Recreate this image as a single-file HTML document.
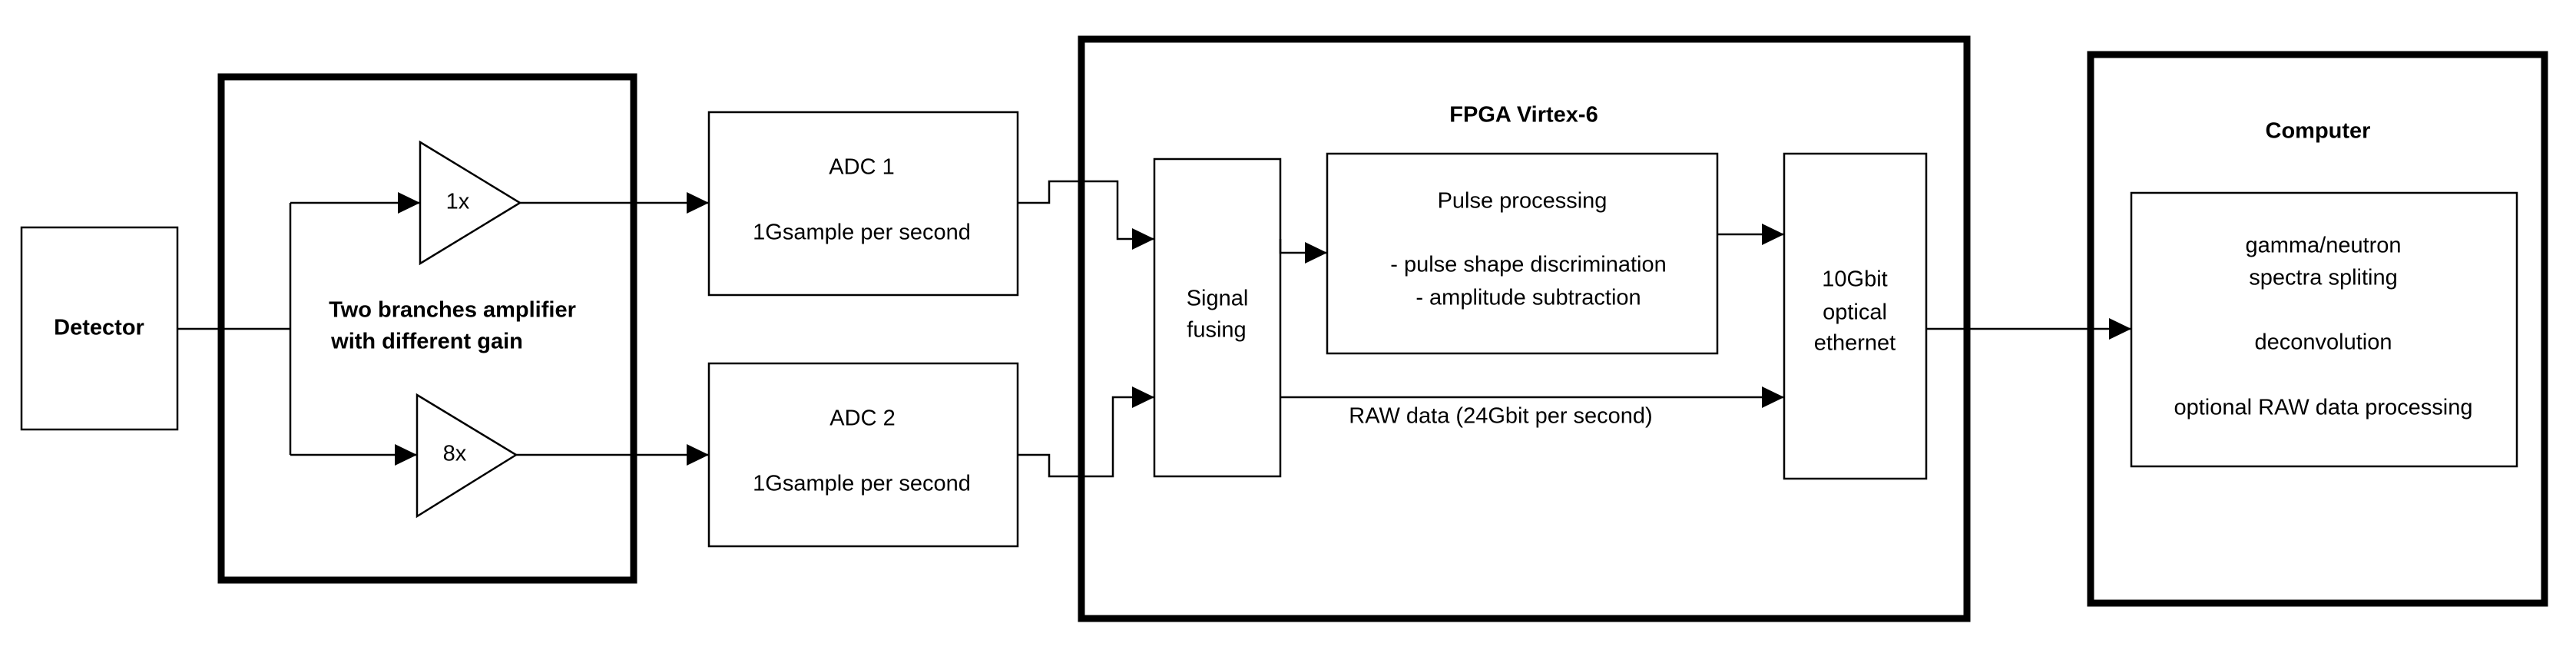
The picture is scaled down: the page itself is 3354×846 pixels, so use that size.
<!DOCTYPE html>
<html><head><meta charset="utf-8"><style>
html,body{margin:0;padding:0;background:#fff;}
svg{display:block;}
text{font-family:"Liberation Sans",sans-serif;font-size:29px;fill:#000;text-anchor:middle;dominant-baseline:middle;}
.b{font-weight:bold;}
</style></head><body>
<svg width="3354" height="846" viewBox="0 0 3354 846" xmlns="http://www.w3.org/2000/svg">
<defs>
<marker id="a" markerUnits="userSpaceOnUse" markerWidth="29" markerHeight="28" refX="29" refY="14" orient="auto">
<path d="M0,0 L29,14 L0,28 Z" fill="#000"/>
</marker>
</defs>
<g fill="none" stroke="#000">
<!-- thick containers -->
<rect x="288" y="100" width="537" height="655" stroke-width="9"/>
<rect x="1408" y="51" width="1153" height="754" stroke-width="9"/>
<rect x="2722" y="71" width="591" height="714" stroke-width="9"/>
<!-- boxes -->
<g stroke-width="2.5">
<rect x="28" y="296" width="203" height="263"/>
<rect x="923" y="146" width="402" height="238"/>
<rect x="923" y="473" width="402" height="238"/>
<rect x="1503" y="207" width="164" height="413"/>
<rect x="1728" y="200" width="508" height="260"/>
<rect x="2323" y="200" width="185" height="423"/>
<rect x="2775" y="251" width="502" height="356"/>
<polygon points="547,185 677,264 547,343"/>
<polygon points="543,514 672,592 543,672"/>
</g>
<!-- connectors -->
<g stroke-width="2.5">
<polyline points="231,428 378,428"/>
<polyline points="378,264 378,592"/>
<polyline points="378,264 547,264" marker-end="url(#a)"/>
<polyline points="378,592 543,592" marker-end="url(#a)"/>
<polyline points="677,264 923,264" marker-end="url(#a)"/>
<polyline points="672,592 923,592" marker-end="url(#a)"/>
<polyline points="1325,264 1366,264 1366,236 1455,236 1455,311 1503,311" marker-end="url(#a)"/>
<polyline points="1325,592 1366,592 1366,620 1449,620 1449,517 1503,517" marker-end="url(#a)"/>
<polyline points="1667,311 1667,329 1728,329" marker-end="url(#a)"/>
<polyline points="2236,305 2323,305" marker-end="url(#a)"/>
<polyline points="1667,517 2323,517" marker-end="url(#a)"/>
<polyline points="2508,428 2775,428" marker-end="url(#a)"/>
</g>
</g>
<text class="b" x="129" y="428">Detector</text>
<text class="b" x="589" y="405">Two branches amplifier</text>
<text class="b" x="556" y="446">with different gain</text>
<text x="596" y="264">1x</text>
<text x="592" y="592">8x</text>
<text x="1122" y="219">ADC 1</text>
<text x="1122" y="304">1Gsample per second</text>
<text x="1123" y="546">ADC 2</text>
<text x="1122" y="631">1Gsample per second</text>
<text class="b" x="1984" y="151">FPGA Virtex-6</text>
<text x="1585" y="390">Signal</text>
<text x="1584" y="431">fusing</text>
<text x="1982" y="263">Pulse processing</text>
<text x="1990" y="346">- pulse shape discrimination</text>
<text x="1990" y="389">- amplitude subtraction</text>
<text x="1954" y="543">RAW data (24Gbit per second)</text>
<text x="2415" y="365">10Gbit</text>
<text x="2415" y="408">optical</text>
<text x="2415" y="448">ethernet</text>
<text class="b" x="3018" y="172">Computer</text>
<text x="3025" y="321">gamma/neutron</text>
<text x="3025" y="363">spectra spliting</text>
<text x="3025" y="447">deconvolution</text>
<text x="3025" y="532">optional RAW data processing</text>
</svg>
</body></html>
